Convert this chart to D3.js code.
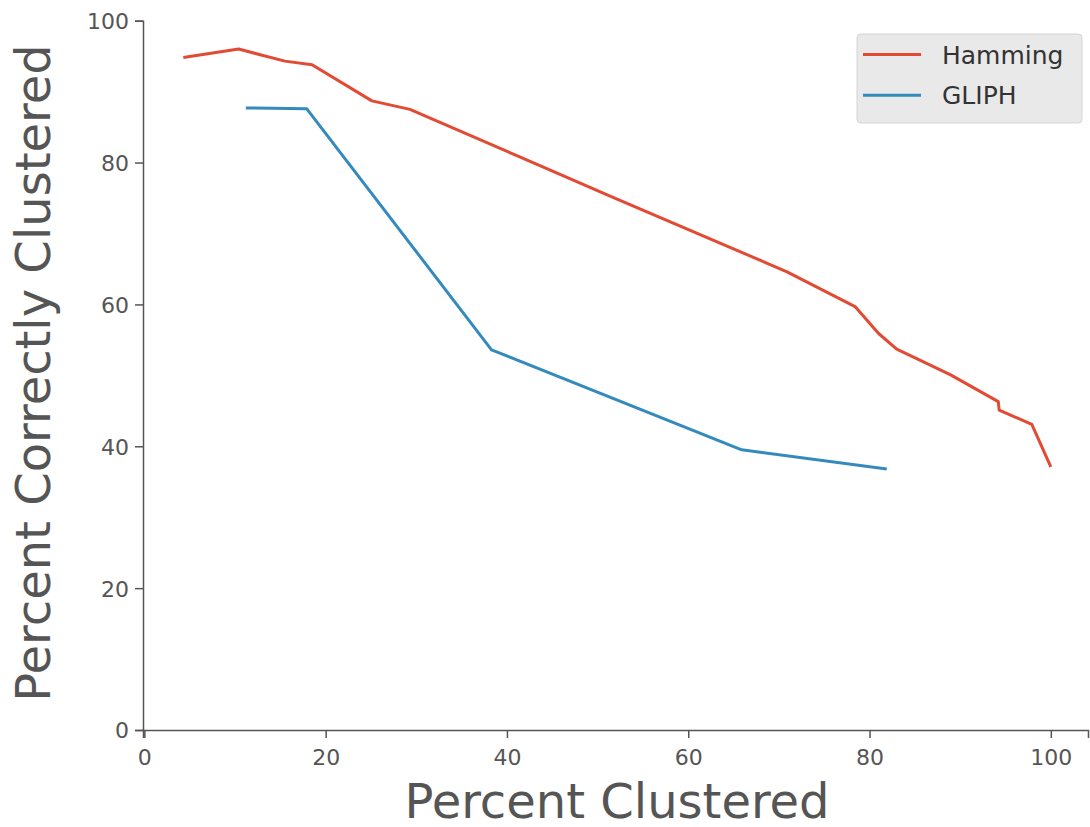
<!DOCTYPE html>
<html>
<head>
<meta charset="utf-8">
<script src="https://cdn.jsdelivr.net/npm/d3@7"></script>
<style>
  body { margin: 0; background: #fff; }
  svg text { font-family: "DejaVu Sans", sans-serif; }
</style>
</head>
<body>
<div id="chart"></div>
<script>
// values
var hammingX = [4.3, 10.4, 15.5, 18.5, 25.1, 29.3, 41.6, 51.7, 70.9, 78.4, 81.0, 83.0, 88.9, 94.2, 94.3, 97.9, 100.0]
var hammingY = [94.8, 96.0, 94.3, 93.8, 88.7, 87.5, 80.7, 75.1, 64.6, 59.7, 55.9, 53.7, 50.1, 46.3, 45.1, 43.1, 37.1]
var gliphX = [11.2, 17.9, 38.3, 65.9, 81.9]
var gliphY = [87.7, 87.6, 53.6, 39.5, 36.8]
var xTicks = [0, 20, 40, 60, 80, 100]
var yTicks = [0, 20, 40, 60, 80, 100]
var seriesNames = ["Hamming", "GLIPH"]
var seriesColors = ["#E24A33", "#348ABD"]

var width = 1090, height = 827

var svg = d3.select("#chart").append("svg").attr("width", width).attr("height", height)

var xs = d3.scaleLinear().domain([-0.15, 104.1]).range([143, 1088])
var ys = d3.scaleLinear().domain([0, 100]).range([730, 20.7])

// axes
var xAxis = svg.append("g")
  .attr("transform", "translate(0," + ys(0) + ")")
  .call(d3.axisBottom(xs).tickValues(xTicks).tickSizeOuter(0).tickSize(8).tickPadding(6))
var yAxis = svg.append("g")
  .attr("transform", "translate(" + xs.range()[0] + ",0)")
  .call(d3.axisLeft(ys).tickValues(yTicks).tickSizeOuter(0).tickSize(8).tickPadding(6))

;[xAxis, yAxis].forEach(function (g) {
  g.select(".domain").attr("stroke", "#555").attr("stroke-width", 1.5)
  g.selectAll(".tick line").attr("stroke", "#555").attr("stroke-width", 1.5)
  g.selectAll(".tick text").attr("fill", "#555").style("font-size", "22px")
})
xAxis.selectAll(".tick text").attr("dy", "0.95em")
yAxis.selectAll(".tick text").attr("dy", "0.36em")

// lines
var series = [
  { name: seriesNames[0], xs: hammingX, ys: hammingY, color: seriesColors[0] },
  { name: seriesNames[1], xs: gliphX, ys: gliphY, color: seriesColors[1] }
]
var line = d3.line().x(d => xs(d[0])).y(d => ys(d[1]))

series.forEach(function (s) {
  var pts = s.xs.map(function (x, i) { return [x, s.ys[i]] })
  svg.append("path")
    .datum(pts)
    .attr("d", line)
    .attr("fill", "none")
    .attr("stroke", s.color)
    .attr("stroke-width", 3)
    .attr("stroke-linejoin", "round")
})

// axis labels
svg.append("text")
  .attr("x", 617).attr("y", 818)
  .attr("text-anchor", "middle")
  .attr("fill", "#555")
  .style("font-size", "48px")
  .text("Percent Clustered")

svg.append("text")
  .attr("transform", "translate(50,373) rotate(-90)")
  .attr("text-anchor", "middle")
  .attr("fill", "#555")
  .style("font-size", "48px")
  .text("Percent Correctly Clustered")

// legend
var legend = svg.append("g").attr("transform", "translate(857,34)")
legend.append("rect")
  .attr("width", 225).attr("height", 89).attr("rx", 4)
  .attr("fill", "#e9e9e9").attr("stroke", "#d4d4d4")
series.forEach(function (s, i) {
  var yy = 20.5 + i * 40.7
  legend.append("line")
    .attr("x1", 6).attr("x2", 64).attr("y1", yy).attr("y2", yy)
    .attr("stroke", s.color).attr("stroke-width", 3)
  legend.append("text")
    .attr("x", 85).attr("y", yy + 9)
    .attr("fill", "#333")
    .style("font-size", "25px")
    .text(s.name)
})
</script>
</body>
</html>
